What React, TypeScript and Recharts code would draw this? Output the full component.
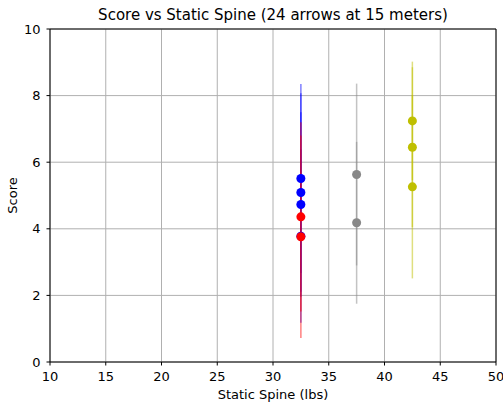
import React from "react";
import {
  ScatterChart,
  Scatter,
  XAxis,
  YAxis,
  CartesianGrid,
  ErrorBar,
  ReferenceLine,
} from "recharts";

const xTicks = [10, 15, 20, 25, 30, 35, 40, 45, 50];
const yTicks = [0, 2, 4, 6, 8, 10];

const blueSpine = [32.5, 32.5, 32.5, 32.5];
const blueScore = [5.51, 5.09, 4.73, 3.78];
const blueErr = [2.84, 2.98, 2.77, 2.6];

const redSpine = [32.5, 32.5];
const redScore = [4.36, 3.76];
const redErr = [2.84, 3.04];

const graySpine = [37.5, 37.5];
const grayScore = [5.63, 4.18];
const grayErr = [2.73, 2.43];

const yellowSpine = [42.5, 42.5, 42.5];
const yellowScore = [7.24, 6.45, 5.26];
const yellowErr = [1.78, 2.4, 2.75];

const build = (xs: number[], ys: number[], es: number[]) =>
  xs.map((x, i) => ({ x, y: ys[i], err: es[i] }));

const series = [
  { name: "blue", color: "#0000ff", data: build(blueSpine, blueScore, blueErr) },
  { name: "red", color: "#ff0000", data: build(redSpine, redScore, redErr) },
  { name: "gray", color: "#888888", data: build(graySpine, grayScore, grayErr) },
  { name: "yellow", color: "#bfbf00", data: build(yellowSpine, yellowScore, yellowErr) },
];

const FONT = "DejaVu Sans";

const makeDot = (color: string) => (props: any) => (
  <circle cx={props.cx} cy={props.cy} r={4.5} fill={color} />
);

export default function App() {
  return (
    <div style={{ position: "absolute", left: 0, top: 0, width: 503, height: 402, background: "#fff" }}>
      <div
        style={{
          position: "absolute",
          left: 50,
          width: 446,
          top: 6,
          textAlign: "center",
          fontFamily: FONT,
          fontSize: 15,
          lineHeight: "18px",
          color: "#000",
        }}
      >
        Score vs Static Spine (24 arrows at 15 meters)
      </div>
      <ScatterChart
        width={503}
        height={402}
        margin={{ top: 29, right: 7, bottom: 0, left: 0 }}
      >
        <CartesianGrid stroke="#b0b0b0" strokeWidth={1} horizontalValues={yTicks} verticalValues={xTicks} />
        <XAxis
          type="number"
          dataKey="x"
          domain={[10, 50]}
          ticks={xTicks}
          interval={0}
          allowDataOverflow
          height={40}
          stroke="#000"
          tickLine={{ stroke: "#000" }}
          tickSize={3.5}
          tickMargin={6.5}
          tick={{ fill: "#000", fontFamily: FONT, fontSize: 13 }}
          label={{
            value: "Static Spine (lbs)",
            position: "insideBottom",
            offset: 3,
            fill: "#000",
            fontFamily: FONT,
            fontSize: 13,
          }}
        />
        <YAxis
          type="number"
          dataKey="y"
          domain={[0, 10]}
          ticks={yTicks}
          interval={0}
          allowDataOverflow
          width={50}
          stroke="#000"
          tickLine={{ stroke: "#000" }}
          tickSize={3.5}
          tickMargin={6}
          tick={{ fill: "#000", fontFamily: FONT, fontSize: 13 }}
          label={{
            value: "Score",
            angle: -90,
            position: "insideLeft",
            offset: 12,
            fill: "#000",
            fontFamily: FONT,
            fontSize: 13,
            style: { textAnchor: "middle" },
          }}
        />
        <ReferenceLine y={10} stroke="#000" strokeWidth={1} />
        <ReferenceLine x={50} stroke="#000" strokeWidth={1} />
        {series.map((s) => (
          <Scatter
            key={s.name}
            data={s.data}
            isAnimationActive={false}
            shape={makeDot(s.color)}
          >
            <ErrorBar
              dataKey="err"
              direction="y"
              width={0}
              stroke={s.color}
              strokeWidth={1.5}
              strokeOpacity={0.5}
              isAnimationActive={false}
            />
          </Scatter>
        ))}
      </ScatterChart>
    </div>
  );
}
